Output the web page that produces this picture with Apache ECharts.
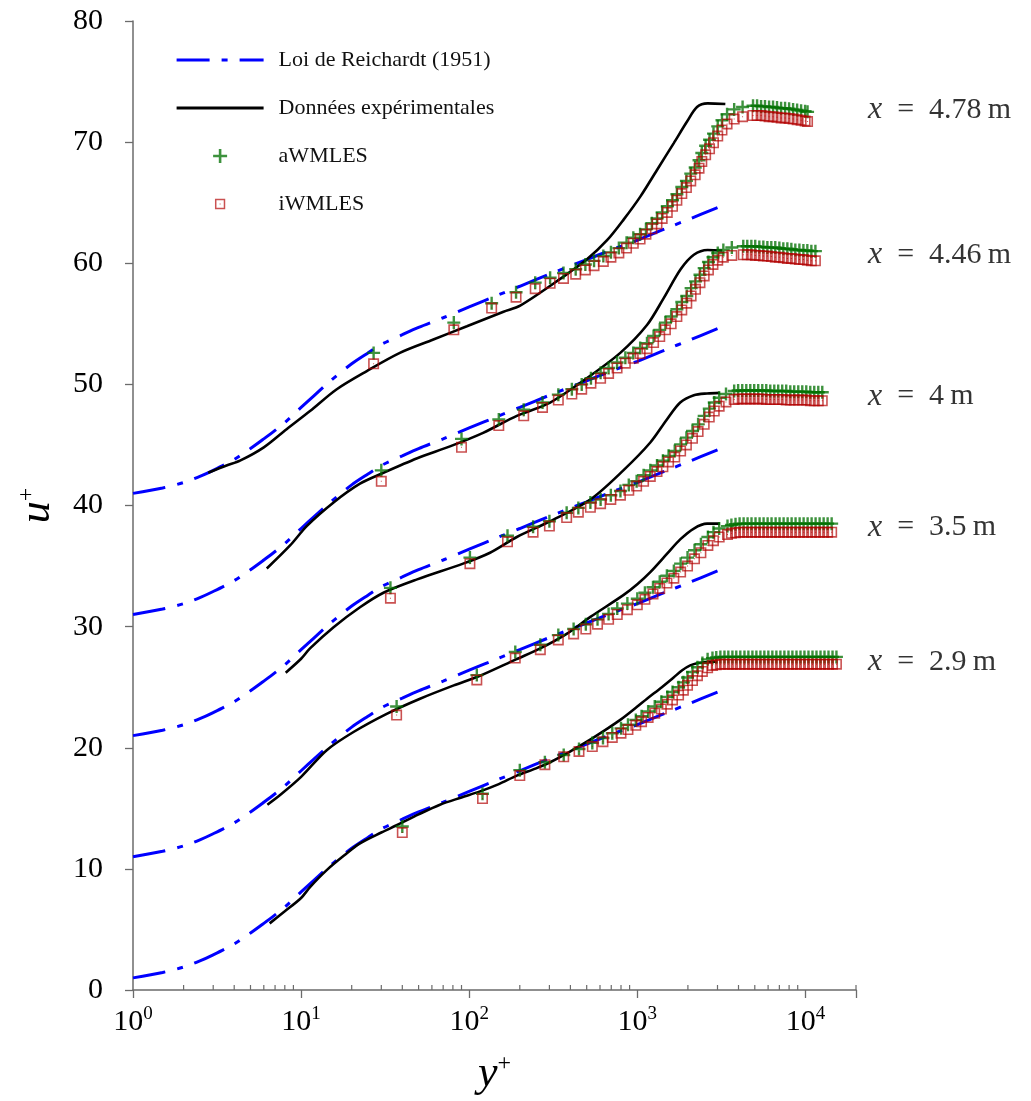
<!DOCTYPE html>
<html>
<head>
<meta charset="utf-8">
<script src="https://cdn.jsdelivr.net/npm/echarts@6/dist/echarts.min.js"></script>
<style>
html,body{margin:0;padding:0;background:#fff;}
#chart{width:1031px;height:1101px;}
</style>
</head>
<body>
<div id="chart"></div>
<script>
// ---------------- data ----------------
const xMajorTicks = [1, 10, 100, 1000, 10000];
const xMinorTicks = [2,3,4,5,6,7,8,9,20,30,40,50,60,70,80,90,200,300,400,500,600,700,800,900,2000,3000,4000,5000,6000,7000,8000,9000,20000];
const yTicks = [0, 10, 20, 30, 40, 50, 60, 70, 80];
const stationNames = ['4.78', '4.46', '4', '3.5', '2.9'];
const stationLabelU = [72.65, 60.7, 49.0, 38.2, 27.1];

// Reichardt law (1951), one curve per station (profiles shifted by 10)
const yPlusR = [1, 1.5, 2, 2.5, 3, 4, 5, 6, 7, 8, 10, 12, 15, 20, 25, 30, 40, 50, 70, 100, 150, 200, 300, 500, 700, 1000, 1500, 2000, 3000];
const reich29 = [1.0, 1.45, 1.9, 2.4, 2.9, 3.8, 4.7, 5.5, 6.2, 6.85, 8.1, 9.1, 10.3, 11.7, 12.6, 13.3, 14.1, 14.7, 15.5, 16.4, 17.4, 18.1, 19.1, 20.3, 21.1, 21.9, 22.9, 23.6, 24.6];
const reich35 = [11.0, 11.45, 11.9, 12.4, 12.9, 13.8, 14.7, 15.5, 16.2, 16.85, 18.1, 19.1, 20.3, 21.7, 22.6, 23.3, 24.1, 24.7, 25.5, 26.4, 27.4, 28.1, 29.1, 30.3, 31.1, 31.9, 32.9, 33.6, 34.6];
const reich40 = [21.0, 21.45, 21.9, 22.4, 22.9, 23.8, 24.7, 25.5, 26.2, 26.85, 28.1, 29.1, 30.3, 31.7, 32.6, 33.3, 34.1, 34.7, 35.5, 36.4, 37.4, 38.1, 39.1, 40.3, 41.1, 41.9, 42.9, 43.6, 44.6];
const reich446 = [31.0, 31.45, 31.9, 32.4, 32.9, 33.8, 34.7, 35.5, 36.2, 36.85, 38.1, 39.1, 40.3, 41.7, 42.6, 43.3, 44.1, 44.7, 45.5, 46.4, 47.4, 48.1, 49.1, 50.3, 51.1, 51.9, 52.9, 53.6, 54.6];
const reich478 = [41.0, 41.45, 41.9, 42.4, 42.9, 43.8, 44.7, 45.5, 46.2, 46.85, 48.1, 49.1, 50.3, 51.7, 52.6, 53.3, 54.1, 54.7, 55.5, 56.4, 57.4, 58.1, 59.1, 60.3, 61.1, 61.9, 62.9, 63.6, 64.6];

// Experimental data (solid black)
const expY29 = [6.5, 8, 10, 11.3, 14.2, 18, 22.4, 30, 37, 50, 67, 90, 116, 150, 192, 250, 303, 400, 501, 650, 792, 1000, 1142, 1400, 1645, 1850, 2066, 2300, 2490, 2800, 3000];
const expU29 = [5.5, 6.5, 7.6, 8.5, 9.9, 11.1, 12.1, 13.0, 13.6, 14.5, 15.3, 15.9, 16.4, 17.0, 17.7, 18.3, 18.8, 19.7, 20.5, 21.5, 22.3, 23.4, 24.05, 25.0, 25.8, 26.4, 26.8, 27.0, 27.05, 27.1, 27.1];
const expY35 = [6.3, 7.5, 10, 14.2, 20.5, 32.3, 51, 81, 114, 190, 265, 380, 526, 826, 1000, 1195, 1500, 1800, 2170, 2600, 3100];
const expU35 = [15.3, 16.1, 17.6, 19.8, 21.3, 22.8, 24.05, 25.15, 25.9, 27.3, 28.2, 29.4, 30.8, 32.6, 33.5, 34.5, 36.0, 37.2, 38.1, 38.5, 38.5];
const expY40 = [8.1, 10, 11.3, 15.6, 22.4, 30.9, 49, 92, 133, 192, 303, 526, 826, 1195, 1500, 1800, 2170, 2600, 3100];
const expU40 = [26.2, 27.35, 28.2, 29.95, 31.6, 32.8, 33.9, 35.2, 36.1, 37.4, 38.7, 40.5, 42.9, 45.2, 47.1, 48.5, 49.1, 49.25, 49.3];
const expY446 = [6.25, 8.6, 10.8, 15.6, 22.4, 30.9, 49.1, 77.5, 121, 192, 303, 500, 792, 1142, 1433, 1810, 2170, 2620, 3200];
const expU446 = [34.8, 36.7, 38.3, 40.25, 41.8, 42.7, 43.9, 44.9, 46.0, 47.4, 48.5, 50.5, 52.6, 54.9, 57.1, 59.5, 60.7, 61.1, 61.05];
const expY478 = [2.8, 3.6, 4.33, 6.0, 8.2, 11.3, 16.3, 24.6, 38.7, 61.2, 96.9, 160, 201, 364, 500, 661, 829, 1042, 1310, 1645, 1977, 2266, 2620, 3340];
const expU478 = [42.7, 43.3, 43.7, 44.8, 46.3, 47.8, 49.6, 51.1, 52.6, 53.7, 54.8, 56.0, 56.5, 58.9, 60.3, 61.9, 63.6, 65.5, 67.7, 69.9, 71.7, 72.9, 73.2, 73.15];

// WMLES profiles (y+ of the cells, aWMLES and iWMLES values)
const lesY29 = [40, 120, 200, 282, 365, 450, 540, 625, 710, 800, 880, 980, 1060, 1160, 1270, 1390, 1510, 1620, 1760, 1880, 1990, 2130, 2280, 2440, 2620, 2800,
  2950, 3120, 3300, 3480, 3680, 3880, 4100, 4340, 4580, 4840, 5110, 5400, 5700, 6020, 6360, 6720, 7100, 7500, 7930, 8370, 8850, 9350, 9870, 10430, 11020, 11640, 12300, 12990, 13720, 14500, 15300];
const aU29 = [13.5, 16.2, 18.15, 18.8, 19.4, 19.9, 20.4, 20.8, 21.2, 21.6, 21.9, 22.3, 22.6, 23.0, 23.4, 23.8, 24.2, 24.6, 25.0, 25.4, 25.8, 26.25, 26.65, 27.0, 27.3, 27.4,
  27.45, 27.5, 27.5, 27.5, 27.5, 27.5, 27.5, 27.5, 27.5, 27.5, 27.5, 27.5, 27.5, 27.5, 27.5, 27.5, 27.5, 27.5, 27.5, 27.5, 27.5, 27.5, 27.5, 27.5, 27.5, 27.5, 27.5, 27.5, 27.5, 27.5, 27.5];
const iU29 = [13.0, 15.8, 17.7, 18.6, 19.25, 19.7, 20.1, 20.5, 20.85, 21.2, 21.5, 21.85, 22.15, 22.5, 22.85, 23.2, 23.6, 23.95, 24.35, 24.75, 25.15, 25.55, 25.95, 26.3, 26.6, 26.8,
  26.85, 26.9, 26.9, 26.9, 26.9, 26.9, 26.9, 26.9, 26.9, 26.9, 26.9, 26.9, 26.9, 26.9, 26.9, 26.9, 26.9, 26.9, 26.9, 26.9, 26.9, 26.9, 26.9, 26.9, 26.9, 26.9, 26.9, 26.9, 26.9, 26.9, 26.9];

const lesY35 = [37, 111, 188, 265, 339, 418, 494, 580, 675, 760, 873, 1000, 1110, 1240, 1360, 1500, 1650, 1810, 1990, 2190, 2390, 2630, 2840, 3070, 3440,
  3630, 3840, 4060, 4290, 4530, 4780, 5050, 5340, 5640, 5960, 6290, 6650, 7020, 7420, 7840, 8280, 8740, 9240, 9760, 10310, 10890, 11500, 12150, 12840, 13560, 14330];
const aU35 = [23.4, 26.0, 27.9, 28.5, 29.3, 29.8, 30.2, 30.6, 31.05, 31.5, 31.9, 32.3, 32.8, 33.25, 33.7, 34.2, 34.6, 35.2, 35.7, 36.3, 36.8, 37.4, 37.8, 38.1, 38.3,
  38.4, 38.45, 38.5, 38.5, 38.5, 38.5, 38.5, 38.5, 38.5, 38.5, 38.5, 38.5, 38.5, 38.5, 38.5, 38.5, 38.5, 38.5, 38.5, 38.5, 38.5, 38.5, 38.5, 38.5, 38.5, 38.5];
const iU35 = [22.7, 25.6, 27.4, 28.1, 28.9, 29.4, 29.8, 30.2, 30.6, 31.0, 31.4, 31.8, 32.25, 32.7, 33.15, 33.6, 34.0, 34.5, 35.0, 35.6, 36.1, 36.7, 37.1, 37.4, 37.6,
  37.7, 37.75, 37.8, 37.8, 37.8, 37.8, 37.8, 37.8, 37.8, 37.8, 37.8, 37.8, 37.8, 37.8, 37.8, 37.8, 37.8, 37.8, 37.8, 37.8, 37.8, 37.8, 37.8, 37.8, 37.8, 37.8];

const lesY40 = [34, 101, 169, 240, 300, 380, 446, 526, 605, 696, 794, 890, 991, 1090, 1195, 1310, 1420, 1535, 1670, 1810, 1960, 2130, 2300, 2500, 2680, 2870, 3070, 3370, 3770,
  3980, 4210, 4450, 4700, 4960, 5240, 5540, 5850, 6180, 6530, 6890, 7280, 7690, 8130, 8580, 9070, 9580, 10120, 10690, 11290, 11930, 12600];
const aU40 = [33.2, 35.7, 37.5, 38.25, 38.7, 39.4, 39.8, 40.25, 40.5, 40.85, 41.2, 41.7, 42.0, 42.5, 42.9, 43.3, 43.7, 44.1, 44.5, 45.05, 45.6, 46.15, 46.7, 47.4, 48.0, 48.5, 48.9, 49.2, 49.45,
  49.5, 49.5, 49.5, 49.5, 49.5, 49.5, 49.5, 49.5, 49.45, 49.45, 49.45, 49.45, 49.45, 49.4, 49.4, 49.4, 49.4, 49.4, 49.35, 49.35, 49.35, 49.35];
const iU40 = [32.35, 35.2, 37.0, 37.8, 38.3, 39.0, 39.45, 39.85, 40.15, 40.5, 40.85, 41.25, 41.6, 42.0, 42.4, 42.8, 43.2, 43.6, 44.0, 44.5, 45.0, 45.55, 46.1, 46.7, 47.3, 47.8, 48.2, 48.55, 48.75,
  48.8, 48.8, 48.8, 48.8, 48.8, 48.8, 48.8, 48.75, 48.75, 48.75, 48.75, 48.75, 48.7, 48.7, 48.7, 48.7, 48.7, 48.7, 48.65, 48.65, 48.65, 48.65];

const lesY446 = [30, 90, 150, 211, 273, 339, 408, 467, 530, 605, 675, 758, 849, 946, 1040, 1142, 1250, 1360, 1470, 1590, 1720, 1840, 1970, 2090, 2220, 2360, 2500, 2650, 2820, 3010, 3250, 3650, 4270,
  4510, 4770, 5030, 5320, 5620, 5940, 6270, 6620, 7000, 7390, 7810, 8250, 8710, 9210, 9730, 10270, 10850, 11470];
const aU446 = [42.9, 45.5, 47.1, 47.9, 48.5, 49.15, 49.6, 50.0, 50.5, 50.95, 51.35, 51.8, 52.2, 52.6, 53.0, 53.4, 54.0, 54.5, 55.1, 55.6, 56.2, 56.8, 57.3, 57.95, 58.5, 59.05, 59.6, 60.1, 60.5, 60.85, 61.1, 61.3, 61.4,
  61.4, 61.4, 61.4, 61.35, 61.35, 61.3, 61.3, 61.3, 61.25, 61.2, 61.2, 61.15, 61.1, 61.1, 61.05, 61.05, 61.0, 61.0];
const iU446 = [42.0, 44.8, 46.6, 47.4, 48.1, 48.7, 49.2, 49.6, 50.1, 50.5, 50.9, 51.35, 51.75, 52.15, 52.55, 52.95, 53.45, 53.95, 54.5, 55.0, 55.6, 56.15, 56.7, 57.3, 57.85, 58.4, 58.95, 59.45, 59.9, 60.25, 60.5, 60.65, 60.7,
  60.7, 60.7, 60.65, 60.65, 60.6, 60.6, 60.55, 60.5, 60.5, 60.45, 60.4, 60.4, 60.35, 60.3, 60.3, 60.25, 60.2, 60.2];

const lesY478 = [27, 81, 136, 190, 247, 303, 364, 430, 491, 553, 628, 697, 777, 863, 947, 1039, 1126, 1221, 1310, 1406, 1508, 1620, 1720, 1840, 1960, 2080, 2210, 2330, 2420, 2550, 2690, 2840, 3010, 3190, 3420, 3770, 4230, 4880,
  5160, 5450, 5750, 6080, 6420, 6780, 7170, 7570, 8000, 8450, 8930, 9430, 9960, 10300];
const aU478 = [52.6, 55.1, 56.7, 57.6, 58.4, 58.8, 59.2, 59.5, 59.9, 60.2, 60.6, 60.9, 61.25, 61.7, 62.1, 62.4, 62.8, 63.3, 63.7, 64.2, 64.7, 65.2, 65.7, 66.3, 66.8, 67.4, 67.9, 68.5, 69.1, 69.7, 70.2, 70.7, 71.3, 71.8, 72.3, 72.7, 72.9, 73.0,
  73.0, 72.95, 72.95, 72.9, 72.9, 72.85, 72.8, 72.8, 72.75, 72.7, 72.65, 72.6, 72.55, 72.5];
const iU478 = [51.7, 54.5, 56.3, 57.2, 57.9, 58.35, 58.75, 59.1, 59.45, 59.8, 60.15, 60.5, 60.85, 61.25, 61.65, 62.0, 62.4, 62.85, 63.25, 63.7, 64.2, 64.7, 65.2, 65.75, 66.25, 66.8, 67.3, 67.85, 68.4, 68.95, 69.45, 69.95, 70.5, 71.0, 71.5, 71.9, 72.1, 72.2,
  72.2, 72.2, 72.15, 72.1, 72.1, 72.05, 72.0, 72.0, 71.95, 71.9, 71.85, 71.8, 71.75, 71.7];

// ---------------- chart ----------------
const FONT = '"Liberation Serif", "DejaVu Serif", serif';
const AXIS_COLOR = '#6b6b6b';
const N_REICH = 'Loi de Reichardt (1951)';
const N_EXP = 'Données expérimentales';
const N_A = 'aWMLES';
const N_I = 'iWMLES';
const GREEN = 'rgba(0,112,0,0.95)';
const RED = 'rgba(178,0,0,0.85)';
// filled outlines so the stroke weight does not depend on the renderer
const PLUS = 'path://M5.3,0L7.7,0L7.7,5.3L13,5.3L13,7.7L7.7,7.7L7.7,13L5.3,13L5.3,7.7L0,7.7L0,5.3L5.3,5.3Z';
const SQUARE = 'path://M0,0L11,0L11,11L0,11Z M1.6,1.6L1.6,9.4L9.4,9.4L9.4,1.6Z M5,5L6,5L6,6L5,6Z';
const SQUARE_LEG = 'path://M-2,-2M13,13M0,0L11,0L11,11L0,11Z M1.6,1.6L1.6,9.4L9.4,9.4L9.4,1.6Z M5,5L6,5L6,6L5,6Z';

function pairs(xs, ys) {
  const n = Math.min(xs.length, ys.length);
  const out = [];
  for (let i = 0; i < n; i++) out.push([xs[i], ys[i]]);
  return out;
}

const reichSets = [reich29, reich35, reich40, reich446, reich478];
const expSets = [[expY29, expU29], [expY35, expU35], [expY40, expU40], [expY446, expU446], [expY478, expU478]];
const aSets = [[lesY29, aU29], [lesY35, aU35], [lesY40, aU40], [lesY446, aU446], [lesY478, aU478]];
const iSets = [[lesY29, iU29], [lesY35, iU35], [lesY40, iU40], [lesY446, iU446], [lesY478, iU478]];

const series = [];
reichSets.forEach(r => series.push({
  name: N_REICH, type: 'line', data: pairs(yPlusR, r), symbol: 'none', smooth: 0.3, z: 2,
  lineStyle: { color: '#0000ff', width: 3, type: [33, 12, 6, 12] }, itemStyle: { color: '#0000ff', opacity: 0 }
}));
expSets.forEach(e => series.push({
  name: N_EXP, type: 'line', data: pairs(e[0], e[1]), symbol: 'none', smooth: 0.3, z: 3,
  lineStyle: { color: '#000000', width: 2.6 }, itemStyle: { color: '#000000', opacity: 0 }
}));
aSets.forEach(a => series.push({
  name: N_A, type: 'scatter', data: pairs(a[0], a[1]), symbol: PLUS, symbolSize: 13, z: 4,
  itemStyle: { color: GREEN, borderWidth: 0 }
}));
iSets.forEach(a => series.push({
  name: N_I, type: 'scatter', data: pairs(a[0], a[1]), symbol: SQUARE, symbolSize: 11, z: 5,
  itemStyle: { color: RED, borderWidth: 0 }
}));
// minor ticks of the log axis (pointing inward)
series.push({
  type: 'custom', silent: true, z: 1, clip: false,
  data: xMinorTicks.map(v => [v, 0]),
  renderItem: (params, api) => {
    const p = api.coord([api.value(0), 0]);
    return { type: 'line', shape: { x1: p[0], y1: p[1], x2: p[0], y2: p[1] - 5 },
             style: { stroke: AXIS_COLOR, lineWidth: 1.2 } };
  }
});
// station labels at the right
series.push({
  type: 'scatter', silent: true, symbolSize: 0, clip: false, z: 6,
  data: stationNames.map((s, k) => ({ value: [20000, stationLabelU[k]], station: s })),
  label: {
    show: true, position: 'right', distance: 12,
    formatter: p => '{i|x}{n|\u2002=\u2002' + p.data.station + '\u2009m}',
    rich: {
      i: { fontFamily: FONT, fontStyle: 'italic', fontSize: 32, color: '#000' },
      n: { fontFamily: FONT, fontSize: 30, color: '#000' }
    }
  }
});

const chart = echarts.init(document.getElementById('chart'), null, { renderer: 'canvas' });
chart.setOption({
  animation: false,
  backgroundColor: '#ffffff',
  grid: { left: 133, right: 175, top: 21, bottom: 109, containLabel: false },
  legend: {
    orient: 'vertical', left: 170, top: 44,
    itemWidth: 87, itemHeight: 14, itemGap: 26,
    selectedMode: false,
    textStyle: { fontFamily: FONT, fontSize: 22, color: '#111', lineHeight: 14, padding: [0, 0, 0, 10] },
    data: [
      { name: N_REICH, itemStyle: { opacity: 0 }, lineStyle: { width: 3.2 } },
      { name: N_EXP, itemStyle: { opacity: 0 }, lineStyle: { width: 3.2 } },
      { name: N_A, icon: PLUS },
      { name: N_I, icon: SQUARE_LEG }
    ]
  },
  xAxis: {
    type: 'log', logBase: 10, min: xMajorTicks[0], max: 20000,
    name: '{i|y}{s|+}', nameLocation: 'middle', nameGap: 62,
    nameTextStyle: {
      rich: {
        i: { fontFamily: FONT, fontStyle: 'italic', fontSize: 44, color: '#000' },
        s: { fontFamily: FONT, fontSize: 24, color: '#000', padding: [0, 0, 20, 0] }
      }
    },
    axisLine: { show: true, lineStyle: { color: AXIS_COLOR, width: 1.5 } },
    axisTick: { show: true, inside: false, length: 8, lineStyle: { color: AXIS_COLOR, width: 1.3 } },
    minorTick: { show: false },
    splitLine: { show: false },
    axisLabel: {
      margin: 15,
      formatter: v => {
        const e = Math.round(Math.log10(v));
        if (xMajorTicks.indexOf(Math.pow(10, e)) < 0 || Math.abs(v - Math.pow(10, e)) > 1e-6 * v) return '';
        return '{b|10}{s|' + e + '}';
      },
      rich: {
        b: { fontFamily: FONT, fontSize: 30, color: '#000' },
        s: { fontFamily: FONT, fontSize: 19, color: '#000', padding: [0, 0, 15, 0] }
      }
    }
  },
  yAxis: {
    type: 'value', min: yTicks[0], max: yTicks[yTicks.length - 1], interval: 10,
    name: '{i|u}{s|+}', nameLocation: 'middle', nameGap: 74, nameRotate: 90,
    nameTextStyle: {
      rich: {
        i: { fontFamily: FONT, fontStyle: 'italic', fontSize: 44, color: '#000' },
        s: { fontFamily: FONT, fontSize: 24, color: '#000', padding: [0, 0, 20, 0] }
      }
    },
    axisLine: { show: true, lineStyle: { color: AXIS_COLOR, width: 1.5 } },
    axisTick: { show: true, inside: false, length: 8, lineStyle: { color: AXIS_COLOR, width: 1.3 } },
    splitLine: { show: false },
    axisLabel: { margin: 30, fontFamily: FONT, fontSize: 30, color: '#000' }
  },
  series: series
});
</script>
</body>
</html>
